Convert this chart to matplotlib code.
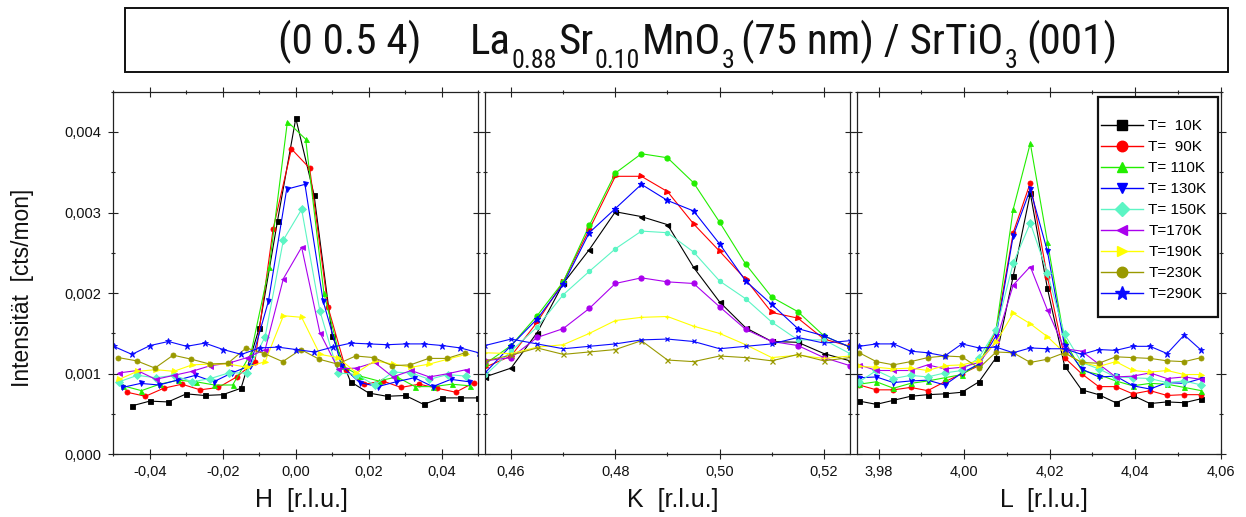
import numpy as np
import matplotlib
matplotlib.use("Agg")
import matplotlib.pyplot as plt
from matplotlib import font_manager
from matplotlib.font_manager import FontProperties
from matplotlib.patches import Rectangle
from matplotlib.lines import Line2D
from matplotlib.ticker import MultipleLocator, FuncFormatter


def pick_font(names):
    for name in names:
        try:
            font_manager.findfont(FontProperties(family=name),
                                  fallback_to_default=False)
            return name
        except ValueError:
            pass
    return "DejaVu Sans"


def find_narrow_file():
    """Return the path of an upright, regular-weight narrow/condensed sans font."""
    prefs = ["liberation", "arimo", "roboto", "open", "noto", "lato", "dejavu"]
    skip = ["bold", "italic", "oblique", "light", "thin", "medium", "semi",
            "black", "extra", "heavy", "mono", "serif"]
    best = None
    for f in font_manager.fontManager.ttflist:
        fn = f.fname.lower()
        nm = f.name.lower()
        tag = fn + " " + nm
        if not ("narrow" in tag or "condensed" in tag):
            continue
        base = fn.rsplit("/", 1)[-1]
        if any(s in base for s in skip):
            continue
        rank = next((i for i, p in enumerate(prefs) if p in tag), len(prefs))
        if best is None or rank < best[0]:
            best = (rank, f.fname)
    return None if best is None else best[1]


BASE_FONT = pick_font(["Liberation Sans", "Arimo", "DejaVu Sans"])
NARROW_FILE = find_narrow_file()

plt.rcParams["font.family"] = [BASE_FONT, "DejaVu Sans"]

SCALE = 1e-3  # intensities are listed in units of 1e-3 cts/mon

labels = ["T=  10K", "T=  90K", "T= 110K", "T= 130K", "T= 150K",
          "T=170K", "T=190K", "T=230K", "T=290K"]
colors = ["#000000", "#ff0000", "#22ee00", "#0000ff", "#5cf5c4",
          "#aa00ee", "#ffff00", "#999900", "#0a0aff"]
markers_hl = ["s", "o", "^", "v", "D", "<", ">", "o", "*"]
markers_k = ["<", ">", "o", "*", "o", "o", "+", "x", "x"]

# ---- H scans -------------------------------------------------------------
h_grid = [-0.050, -0.045, -0.040, -0.035, -0.030, -0.025, -0.020, -0.015,
          -0.010, -0.005, 0.000, 0.005, 0.010, 0.015, 0.020, 0.025, 0.030,
          0.035, 0.040, 0.045, 0.050]
h_first = [1, 1, 1, 1, 1, 1, 1, 1, 0]
h_offset = [0.0, -0.0012, -0.0023, -0.0025, -0.0034, -0.0034, -0.0034,
            -0.0036, 0.0001]

h_10k = [0.60, 0.66, 0.65, 0.75, 0.73, 0.74, 0.82, 1.57, 2.90, 4.17, 3.22,
         1.47, 0.90, 0.76, 0.72, 0.73, 0.62, 0.70, 0.70, 0.70]
h_90k = [0.77, 0.72, 0.82, 0.87, 0.80, 0.83, 0.96, 1.15, 2.80, 3.79, 3.55,
         1.83, 1.04, 0.87, 0.91, 0.83, 0.87, 0.82, 0.77, 0.89]
h_110k = [0.85, 0.79, 0.87, 0.92, 0.90, 0.86, 0.86, 1.25, 2.32, 4.13, 3.91,
          2.00, 1.10, 0.97, 0.91, 0.96, 0.84, 0.84, 0.87, 0.85]
h_130k = [0.83, 0.88, 0.86, 0.92, 0.98, 0.90, 1.01, 1.10, 1.90, 3.29, 3.35,
          1.90, 1.10, 0.89, 0.84, 0.90, 0.95, 0.84, 0.93, 0.90]
h_150k = [0.90, 0.98, 0.95, 0.98, 0.90, 0.94, 1.01, 1.01, 1.46, 2.66, 3.04,
          1.78, 1.01, 0.99, 0.86, 1.02, 1.01, 0.93, 0.99, 0.97]
h_170k = [1.01, 1.04, 0.93, 0.98, 1.03, 1.10, 1.13, 1.20, 1.30, 2.18, 2.57,
          1.51, 1.06, 1.07, 1.14, 0.96, 1.04, 0.96, 1.00, 1.05]
h_190k = [0.93, 1.03, 1.05, 1.03, 1.11, 1.12, 1.12, 1.08, 1.15, 1.72, 1.70,
          1.24, 1.20, 1.01, 1.16, 1.12, 1.08, 1.12, 1.18, 1.24]
h_230k = [1.20, 1.16, 1.07, 1.23, 1.18, 1.12, 1.13, 1.32, 1.25, 1.15, 1.30,
          1.18, 1.12, 1.22, 1.20, 1.10, 1.11, 1.19, 1.19, 1.26]
h_290k = [1.34, 1.24, 1.35, 1.40, 1.34, 1.38, 1.30, 1.24, 1.32, 1.33, 1.30,
          1.27, 1.33, 1.38, 1.37, 1.36, 1.37, 1.37, 1.35, 1.32, 1.26]

# ---- K scans -------------------------------------------------------------
k_grid = [0.455, 0.460, 0.465, 0.470, 0.475, 0.480, 0.485, 0.490, 0.495,
          0.500, 0.505, 0.510, 0.515, 0.520, 0.525]

k_10k = [0.96, 1.07, 1.51, 2.12, 2.54, 3.01, 2.95, 2.85, 2.32, 1.89, 1.57,
         1.40, 1.39, 1.25, 1.16]
k_90k = [1.08, 1.22, 1.64, 2.14, 2.79, 3.45, 3.45, 3.26, 2.86, 2.52, 2.17,
         1.76, 1.69, 1.43, 1.34]
k_110k = [1.12, 1.35, 1.72, 2.14, 2.84, 3.49, 3.73, 3.68, 3.37, 2.88, 2.36,
          1.95, 1.77, 1.47, 1.33]
k_130k = [1.01, 1.35, 1.68, 2.11, 2.75, 3.05, 3.35, 3.15, 3.02, 2.61, 2.15,
          1.86, 1.56, 1.47, 1.33]
k_150k = [0.98, 1.28, 1.58, 1.98, 2.27, 2.55, 2.77, 2.75, 2.51, 2.15, 1.93,
          1.64, 1.42, 1.42, 1.25]
k_170k = [1.16, 1.20, 1.45, 1.56, 1.81, 2.12, 2.19, 2.14, 2.12, 1.83, 1.55,
          1.40, 1.35, 1.20, 1.10]
k_190k = [1.26, 1.25, 1.33, 1.36, 1.50, 1.66, 1.70, 1.71, 1.59, 1.50, 1.36,
          1.20, 1.23, 1.19, 1.22]
k_230k = [1.16, 1.23, 1.32, 1.24, 1.27, 1.30, 1.41, 1.17, 1.15, 1.22, 1.20,
          1.16, 1.24, 1.16, 1.20]
k_290k = [1.35, 1.43, 1.37, 1.31, 1.34, 1.37, 1.42, 1.43, 1.40, 1.31, 1.34,
          1.37, 1.45, 1.38, 1.41]

# ---- L scans -------------------------------------------------------------
l_grid = [3.9755, 3.9795, 3.9835, 3.9875, 3.9915, 3.9955, 3.9995, 4.0035,
          4.0075, 4.0115, 4.0155, 4.0195, 4.0235, 4.0275, 4.0315, 4.0355,
          4.0395, 4.0435, 4.0475, 4.0515, 4.0555]

l_10k = [0.66, 0.62, 0.67, 0.72, 0.74, 0.75, 0.77, 0.90, 1.20, 2.21, 3.24,
         2.06, 1.10, 0.80, 0.74, 0.64, 0.73, 0.63, 0.65, 0.64, 0.69]
l_90k = [0.86, 0.80, 0.80, 0.83, 0.79, 0.90, 1.00, 1.10, 1.53, 2.75, 3.37,
         2.20, 1.20, 1.00, 0.84, 0.84, 0.75, 0.79, 0.73, 0.74, 0.74]
l_110k = [0.87, 0.90, 0.82, 0.88, 0.91, 0.95, 0.99, 1.12, 1.55, 3.04, 3.86,
          2.64, 1.41, 1.04, 0.99, 0.91, 0.85, 0.88, 0.87, 0.83, 0.79]
l_130k = [0.95, 0.96, 0.89, 0.91, 0.92, 0.86, 1.01, 1.12, 1.47, 2.71, 3.29,
          2.52, 1.35, 1.06, 0.96, 0.97, 0.85, 0.81, 0.89, 0.88, 0.94]
l_150k = [0.90, 1.04, 0.94, 0.98, 0.96, 1.01, 1.04, 1.20, 1.54, 2.37, 2.87,
          2.25, 1.49, 1.14, 1.06, 0.96, 0.95, 0.94, 0.89, 0.91, 0.86]
l_170k = [1.11, 1.04, 1.04, 1.04, 1.11, 1.06, 1.08, 1.14, 1.40, 2.10, 2.33,
          1.79, 1.31, 1.28, 1.12, 0.96, 0.97, 1.01, 0.94, 0.96, 0.93]
l_190k = [1.09, 1.08, 1.06, 1.07, 1.04, 1.10, 1.11, 1.16, 1.39, 1.75, 1.62,
          1.46, 1.26, 1.14, 1.09, 1.15, 1.04, 1.02, 1.04, 0.99, 0.99]
l_230k = [1.26, 1.15, 1.11, 1.15, 1.20, 1.22, 1.21, 1.07, 1.27, 1.26, 1.14,
          1.18, 1.26, 1.14, 1.13, 1.21, 1.20, 1.19, 1.16, 1.15, 1.20]
l_290k = [1.34, 1.37, 1.37, 1.28, 1.26, 1.22, 1.37, 1.32, 1.33, 1.26, 1.32,
          1.31, 1.31, 1.24, 1.30, 1.29, 1.34, 1.34, 1.25, 1.48, 1.29]

h_scans = [h_10k, h_90k, h_110k, h_130k, h_150k, h_170k, h_190k, h_230k, h_290k]
k_scans = [k_10k, k_90k, k_110k, k_130k, k_150k, k_170k, k_190k, k_230k, k_290k]
l_scans = [l_10k, l_90k, l_110k, l_130k, l_150k, l_170k, l_190k, l_230k, l_290k]

# title pieces: (text, is_subscript, gap before in em)
title_left = "(0 0.5 4)"
title_pieces = [("La", False, 0.0), ("0.88", True, 0.02), ("Sr", False, 0.03),
                ("0.10", True, 0.02), ("MnO", False, 0.03), ("3", True, 0.03),
                ("(75 nm) / SrTiO", False, 0.14), ("3", True, 0.03),
                ("(001)", False, 0.22)]

# ---- figure ---------------------------------------------------------------
W, H = 1246, 517
fig = plt.figure(figsize=(W / 100, H / 100), dpi=100)
fig.patch.set_facecolor("white")


def px_rect(x0, x1, y_top, y_bot):
    return [x0 / W, 1 - y_bot / H, (x1 - x0) / W, (y_bot - y_top) / H]


ax_h = fig.add_axes(px_rect(113.3, 478.3, 91.7, 454.3))
ax_k = fig.add_axes(px_rect(485.0, 850.0, 91.7, 454.3))
ax_l = fig.add_axes(px_rect(856.7, 1221.0, 91.7, 454.3))

LW = 0.8
MS = 3.6

for i, y in enumerate(h_scans):
    x = np.array(h_grid[h_first[i]:h_first[i] + len(y)]) + h_offset[i]
    ms = MS + 1.2 if markers_hl[i] == "*" else MS
    ax_h.plot(x, np.array(y) * SCALE, color=colors[i], marker=markers_hl[i],
              ms=ms, lw=LW, mew=0.6)

for i, y in enumerate(k_scans):
    ms = MS + 1.2 if markers_k[i] == "*" else MS
    if i in (4, 6, 8):
        ms = 3.0
    ax_k.plot(k_grid, np.array(y) * SCALE, color=colors[i], marker=markers_k[i],
              ms=ms, lw=LW, mew=0.9)

for i, y in enumerate(l_scans):
    ms = MS + 1.2 if markers_hl[i] == "*" else MS
    ax_l.plot(l_grid, np.array(y) * SCALE, color=colors[i], marker=markers_hl[i],
              ms=ms, lw=LW, mew=0.6)


def comma_fmt(decimals):
    def f(v, _):
        s = f"{v:.{decimals}f}"
        if s.startswith("-") and float(s) == 0:
            s = s[1:]
        return s.replace(".", ",")
    return FuncFormatter(f)


ax_h.set_xlim(-0.050, 0.050)
ax_k.set_xlim(0.455, 0.525)
ax_l.set_xlim(3.9749, 4.0601)

for ax in (ax_h, ax_k, ax_l):
    ax.set_ylim(0, 0.0045)
    ax.xaxis.set_major_locator(MultipleLocator(0.02))
    ax.xaxis.set_minor_locator(MultipleLocator(0.01))
    ax.xaxis.set_major_formatter(comma_fmt(2))
    ax.yaxis.set_major_locator(MultipleLocator(0.001))
    ax.yaxis.set_minor_locator(MultipleLocator(0.0005))
    ax.yaxis.set_major_formatter(comma_fmt(3))
    ax.tick_params(which="both", direction="inout", top=True, right=True,
                   width=0.8, color="#222222", labelsize=10.5,
                   labelcolor="#111111")
    ax.tick_params(which="major", length=6.5, pad=4.5)
    ax.tick_params(which="minor", length=3.2)
    for sp in ax.spines.values():
        sp.set_linewidth(0.9)
        sp.set_color("#222222")
    ax.set_facecolor("white")

ax_h.tick_params(axis="y", which="major", pad=5.5)
ax_k.tick_params(axis="y", labelleft=False)
ax_l.tick_params(axis="y", labelleft=False)

# axis titles
fig.text(23 / W, 1 - 288 / H, "Intensität  [cts/mon]", rotation=90,
         ha="center", va="center", fontsize=16.4, color="#111111")
for cx, txt in ((301, "H  [r.l.u.]"), (673, "K  [r.l.u.]"), (1044, "L  [r.l.u.]")):
    fig.text(cx / W, 1 - 500 / H, txt, ha="center", va="center",
             fontsize=18, color="#111111")

# legend with its own frame
handles = [Line2D([], [], color=colors[i], marker=markers_hl[i], lw=1.0,
                  ms=(MS + 1.2 if markers_hl[i] == "*" else MS))
           for i in range(len(labels))]
leg = ax_l.legend(handles, labels, loc="upper left",
                  bbox_to_anchor=((1101 - 856.7) / 364.3, (454.3 - 119) / 362.6),
                  frameon=False, fontsize=11, markerscale=2.1,
                  handlelength=2.75, handletextpad=0.35, labelspacing=0.46,
                  borderpad=0.0, borderaxespad=0.0)
leg.set_zorder(6)
ax_l.add_patch(Rectangle(((1097.5 - 856.7) / 364.3, (454.3 - 316.7) / 362.6),
                         120 / 364.3, 219.4 / 362.6, transform=ax_l.transAxes,
                         facecolor="white", edgecolor="#111111", lw=1.6,
                         zorder=5))

# title box
fig.patches.append(Rectangle((125 / W, 1 - 72 / H), 1103 / W, 64 / H,
                             transform=fig.transFigure, facecolor="white",
                             edgecolor="#111111", lw=1.4))


def title_props(size):
    if NARROW_FILE:
        return FontProperties(fname=NARROW_FILE, size=size)
    return FontProperties(family=BASE_FONT, size=size)


def draw_title(size, x_left, x_formula, baseline):
    renderer = fig.canvas.get_renderer()
    em = size * 100 / 72
    made = [fig.text(x_left / W, 1 - baseline / H, title_left, ha="left",
                     va="baseline", fontproperties=title_props(size),
                     color="#111111")]
    x = x_formula
    for txt, sub, gap in title_pieces:
        x += gap * em
        fs = size * 0.6 if sub else size
        yb = baseline + (0.32 * em if sub else 0.0)
        t = fig.text(x / W, 1 - yb / H, txt, ha="left", va="baseline",
                     fontproperties=title_props(fs), color="#111111")
        made.append(t)
        x += t.get_window_extent(renderer).width
    return made, x - x_formula


trial, width = draw_title(30, 278, 470, 54)
for t in trial:
    t.remove()
draw_title(30 * 648 / width, 278, 470, 54)

fig.savefig("out.png", dpi=100, facecolor="white")
